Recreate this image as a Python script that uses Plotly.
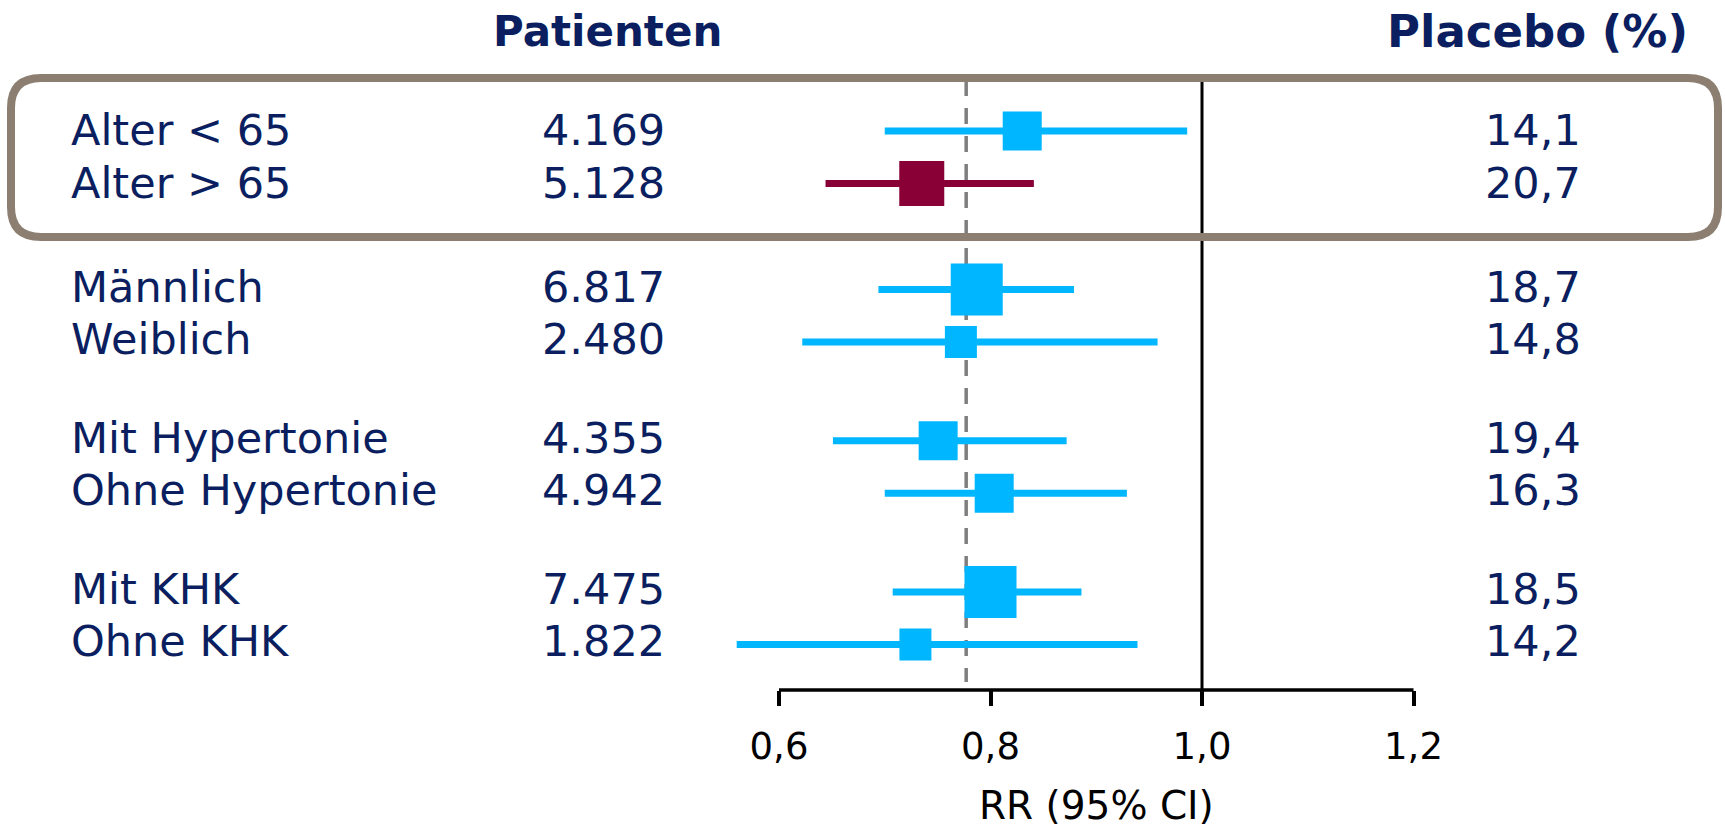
import plotly.graph_objects as go

# ---- data -----------------------------------------------------------------
groups = [
    ["Alter < 65", "Alter > 65"],
    ["Männlich", "Weiblich"],
    ["Mit Hypertonie", "Ohne Hypertonie"],
    ["Mit KHK", "Ohne KHK"],
]
patients = [4169, 5128, 6817, 2480, 4355, 4942, 7475, 1822]
placebo_pct = [14.1, 20.7, 18.7, 14.8, 19.4, 16.3, 18.5, 14.2]
rr = [0.830, 0.735, 0.787, 0.772, 0.7505, 0.8035, 0.800, 0.729]
ci_low = [0.700, 0.644, 0.694, 0.622, 0.651, 0.700, 0.7075, 0.560]
ci_high = [0.986, 0.841, 0.879, 0.958, 0.872, 0.929, 0.886, 0.939]
overall_rr = 0.777
highlight = "Alter > 65"
tick_vals = [0.6, 0.8, 1.0, 1.2]

# ---- layout constants ---------------------------------------------------------
W, H = 1725, 832
AXIS_PX = 690            # pixel row of the RR axis line
ROW_PX = 52.5            # pixel height of one row
FIRST_ROW_PX = 131       # pixel row of the first entry
GROUP_GAP = [0, 1.02, 0.88, 0.88]
X_PX_06, X_PX_12 = 779, 1413.5

NAVY = "#0B1F60"
BLUE = "#00B6FF"
RED = "#890036"
FRAME = "#8C7F71"
FONT = "DejaVu Sans"

px_per_unit = (X_PX_12 - X_PX_06) / 0.6
x_lo = 0.6 - X_PX_06 / px_per_unit
x_hi = x_lo + W / px_per_unit

labels = [name for g in groups for name in g]
ypos = []
offset = 0.0
i = 0
for gi, g in enumerate(groups):
    offset += GROUP_GAP[gi]
    for _ in g:
        ypos.append(i + offset)
        i += 1


def marker_px(n):
    if n < 3000:
        return 32
    if n < 5000:
        return 39
    if n < 6000:
        return 45
    return 52


def fmt_int(n):
    return f"{n:,}".replace(",", ".")


def fmt_dec(v):
    return f"{v:.1f}".replace(".", ",")


fig = go.Figure()

for is_hl, color in [(False, BLUE), (True, RED)]:
    idx = [k for k, lab in enumerate(labels) if (lab == highlight) == is_hl]
    fig.add_trace(go.Scatter(
        x=[rr[k] for k in idx],
        y=[ypos[k] for k in idx],
        mode="markers",
        marker=dict(symbol="square", color=color, opacity=1,
                    size=[marker_px(patients[k]) for k in idx],
                    line=dict(width=0)),
        error_x=dict(type="data", symmetric=False,
                     array=[ci_high[k] - rr[k] for k in idx],
                     arrayminus=[rr[k] - ci_low[k] for k in idx],
                     color=color, thickness=7, width=0),
        hoverinfo="skip",
        showlegend=False,
        cliponaxis=False,
    ))

y_dom0 = 1 - AXIS_PX / H
y_range = [(AXIS_PX - FIRST_ROW_PX) / ROW_PX, -FIRST_ROW_PX / ROW_PX]


def py(pxrow):
    return 1 - pxrow / H


def px_(pxcol):
    return pxcol / W


shapes = []
# reference line at RR = 1
shapes.append(dict(type="line", xref="x", yref="paper", x0=1.0, x1=1.0,
                   y0=py(78), y1=py(AXIS_PX), line=dict(color="black", width=3),
                   layer="below"))
# overall effect (dashed)
shapes.append(dict(type="line", xref="x", yref="paper", x0=overall_rr, x1=overall_rr,
                   y0=py(80), y1=py(682), line=dict(color="#7F7F7F", width=3.5,
                                                    dash="16px,12px"),
                   layer="below"))
# axis baseline between first and last tick
shapes.append(dict(type="line", xref="x", yref="paper", x0=tick_vals[0], x1=tick_vals[-1],
                   y0=y_dom0, y1=y_dom0, line=dict(color="black", width=3.5)))

# rounded frame around the age subgroup
bx0, bx1, by0, by1, r = 11, 1718, 78, 237, 30
rx, ry = r / W, r / H
X0, X1, Y0, Y1 = px_(bx0), px_(bx1), py(by0), py(by1)
path = (f"M {X0 + rx},{Y0} L {X1 - rx},{Y0} Q {X1},{Y0} {X1},{Y0 - ry} "
        f"L {X1},{Y1 + ry} Q {X1},{Y1} {X1 - rx},{Y1} "
        f"L {X0 + rx},{Y1} Q {X0},{Y1} {X0},{Y1 + ry} "
        f"L {X0},{Y0 - ry} Q {X0},{Y0} {X0 + rx},{Y0} Z")
shapes.append(dict(type="path", xref="paper", yref="paper", path=path,
                   line=dict(color=FRAME, width=8)))

annotations = []
body_font = dict(family=FONT, size=43, color=NAVY)
for k, lab in enumerate(labels):
    ys = 1 if k < 2 else 3
    annotations.append(dict(x=px_(69), y=ypos[k], xref="paper", yref="y", text=lab,
                            xanchor="left", yanchor="middle", yshift=ys,
                            showarrow=False, font=body_font))
    annotations.append(dict(x=px_(667), y=ypos[k], xref="paper", yref="y",
                            text=fmt_int(patients[k]), xanchor="right", yanchor="middle",
                            yshift=ys, showarrow=False, font=body_font))
    annotations.append(dict(x=px_(1583), y=ypos[k], xref="paper", yref="y",
                            text=fmt_dec(placebo_pct[k]), xanchor="right", yanchor="middle",
                            yshift=ys, showarrow=False, font=body_font))

for text, cx, fs in [("Patienten", 607, 42), ("Placebo (%)", 1537, 45)]:
    annotations.append(dict(x=px_(cx), y=py(31), xref="paper", yref="paper",
                            text=f"<b>{text}</b>", xanchor="center", yanchor="middle",
                            showarrow=False, font=dict(family=FONT, size=fs, color=NAVY)))

annotations.append(dict(x=((X_PX_06 + X_PX_12) / 2) / W, y=py(805), xref="paper",
                        yref="paper", text="RR (95% CI)", xanchor="center",
                        yanchor="middle", showarrow=False,
                        font=dict(family=FONT, size=39, color="black")))

fig.update_layout(
    width=W, height=H,
    margin=dict(l=0, r=0, t=0, b=0),
    paper_bgcolor="white", plot_bgcolor="white",
    separators=",.",
    shapes=shapes,
    annotations=annotations,
    xaxis=dict(range=[x_lo, x_hi], domain=[0, 1], tickvals=tick_vals,
               tickformat=".1f", ticks="outside", ticklen=15, tickwidth=3.5,
               tickcolor="black", showline=False, showgrid=False, zeroline=False,
               ticklabelstandoff=9,
               tickfont=dict(family=FONT, size=37, color="black"),
               fixedrange=True),
    yaxis=dict(range=y_range, domain=[y_dom0, 1], visible=False,
               showgrid=False, zeroline=False, fixedrange=True),
)

fig.write_html("out.html", config={"displayModeBar": False})
